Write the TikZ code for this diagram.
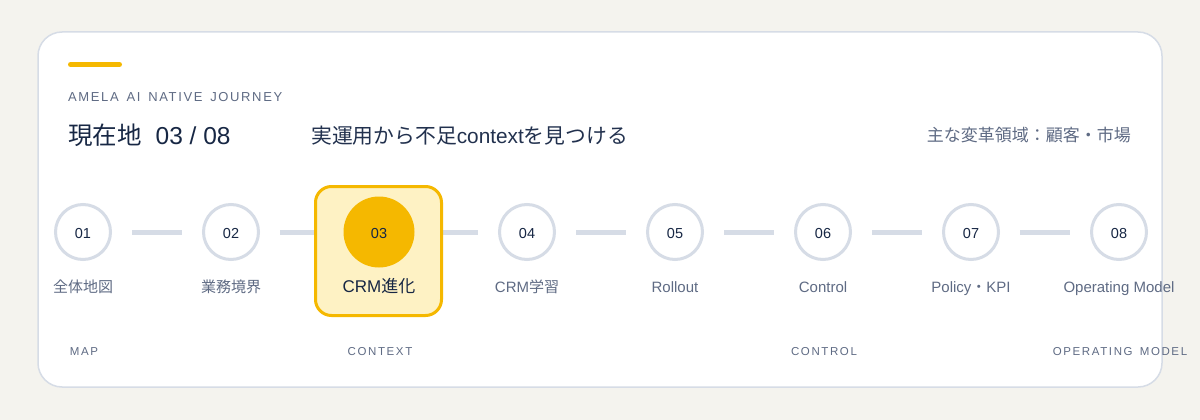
\documentclass[tikz,border=0pt]{standalone}
\usepackage{fontspec}
\setmainfont{Liberation Sans}
\newfontfamily\cjk{Noto Sans CJK JP}
\newfontfamily\kickerfont[LetterSpace=12.5, WordSpace=1.5]{Liberation Sans}
\newfontfamily\phasefont[LetterSpace=14, WordSpace=1.5]{Liberation Sans}
\definecolor{pagebg}{HTML}{F4F3EE}
\definecolor{cardline}{HTML}{D6DCE6}
\definecolor{ring}{HTML}{D6DCE6}
\definecolor{accent}{HTML}{F5B800}
\definecolor{accentlight}{HTML}{FEF2C4}
\definecolor{navy}{HTML}{172744}
\definecolor{slate}{HTML}{5F6B84}
\pgfdeclarelayer{bg}
\pgfdeclarelayer{lines}
\pgfsetlayers{bg,lines,main}
\tikzset{
  stepcircle/.style={circle, draw=ring, line width=3pt, fill=white, minimum size=55pt, inner sep=0pt,
    text=navy, font=\fontsize{14.5}{16}\selectfont, text height=1.34em, text depth=0pt},
  activedot/.style={circle, fill=accent, minimum size=71pt, inner sep=0pt,
    text=navy, font=\fontsize{14.5}{16}\selectfont, text height=1.34em, text depth=0pt},
  activebox/.style={rectangle, rounded corners=16pt, draw=accent, fill=accentlight, line width=3pt,
    minimum width=126pt, minimum height=129pt, inner sep=0pt},
  steplabel/.style={anchor=base, inner sep=0pt, text=slate, font=\fontsize{15}{17}\selectfont},
  phaselabel/.style={anchor=base, inner sep=0pt, text=slate, font=\phasefont\fontsize{11.5}{14}\selectfont},
  conn/.style={draw=ring, line width=5pt},
}
\begin{document}
\begin{tikzpicture}[x=1pt,y=-1pt]
\useasboundingbox (0,0) rectangle (1200,420);
\begin{pgfonlayer}{bg}
\fill[pagebg] (0,0) rectangle (1200,420);
\draw[fill=white, draw=cardline, line width=1.5pt, rounded corners=24pt] (38,32) rectangle (1162,387);
\end{pgfonlayer}
% accent bar
\draw[accent, line width=5pt, line cap=round] (70.5,64.5) -- (119.5,64.5);
% header texts
\node[anchor=base west, inner sep=0pt, text=slate, font=\kickerfont\fontsize{13}{15}\selectfont] (kicker) at (68,102) {AMELA AI NATIVE JOURNEY};
\node[anchor=base west, inner sep=0pt, text=navy, font=\fontsize{24.5}{28}\selectfont] (where) at (68,144) {{\cjk 現在地}\hspace{14pt}03 / 08};
\node[anchor=base west, inner sep=0pt, text=navy!85!slate, font=\fontsize{20.8}{24}\selectfont] (sub) at (311,143) {{\cjk 実運用から不足}context{\cjk を見つける}};
\node[anchor=base east, inner sep=0pt, text=slate, font=\fontsize{17}{19}\selectfont] (area) at (1131,141) {\cjk 主な変革領域：顧客・市場};
% steps
\node[stepcircle] (c1) at (83,232) {01};
\node[stepcircle] (c2) at (231,232) {02};
\node[activebox] (c3) at (378.5,251) {};
\node[activedot] (c3dot) at (379,232) {03};
\node[stepcircle] (c4) at (527,232) {04};
\node[stepcircle] (c5) at (675,232) {05};
\node[stepcircle] (c6) at (823,232) {06};
\node[stepcircle] (c7) at (971,232) {07};
\node[stepcircle] (c8) at (1119,232) {08};
% connectors
\begin{pgfonlayer}{lines}
\draw[conn, shorten <=20pt, shorten >=20pt] (c1) -- (c2);
\draw[conn, shorten <=20pt] (c2) -- (c2 -| c3.west);
\draw[conn, shorten >=20pt] (c3.east |- c4) -- (c4);
\draw[conn, shorten <=20pt, shorten >=20pt] (c4) -- (c5);
\draw[conn, shorten <=20pt, shorten >=20pt] (c5) -- (c6);
\draw[conn, shorten <=20pt, shorten >=20pt] (c6) -- (c7);
\draw[conn, shorten <=20pt, shorten >=20pt] (c7) -- (c8);
\end{pgfonlayer}
% step labels
\node[steplabel] (l1) at (83,292) {\cjk 全体地図};
\node[steplabel] (l2) at (231,292) {\cjk 業務境界};
\node[steplabel, text=navy, font=\fontsize{17}{19}\selectfont] (l3) at (379,292) {CRM{\cjk 進化}};
\node[steplabel] (l4) at (527,292) {CRM{\cjk 学習}};
\node[steplabel] (l5) at (675,292) {Rollout};
\node[steplabel] (l6) at (823,292) {Control};
\node[steplabel] (l7) at (971,292) {Policy{\cjk ・}KPI};
\node[steplabel] (l8) at (1119,292) {Operating Model};
% phase labels
\node[phaselabel] (p1) at (84,355) {MAP};
\node[phaselabel] (p3) at (380,355) {CONTEXT};
\node[phaselabel] (p6) at (824,355) {CONTROL};
\node[phaselabel] (p8) at (1120,355) {OPERATING MODEL};
\end{tikzpicture}
\end{document}
